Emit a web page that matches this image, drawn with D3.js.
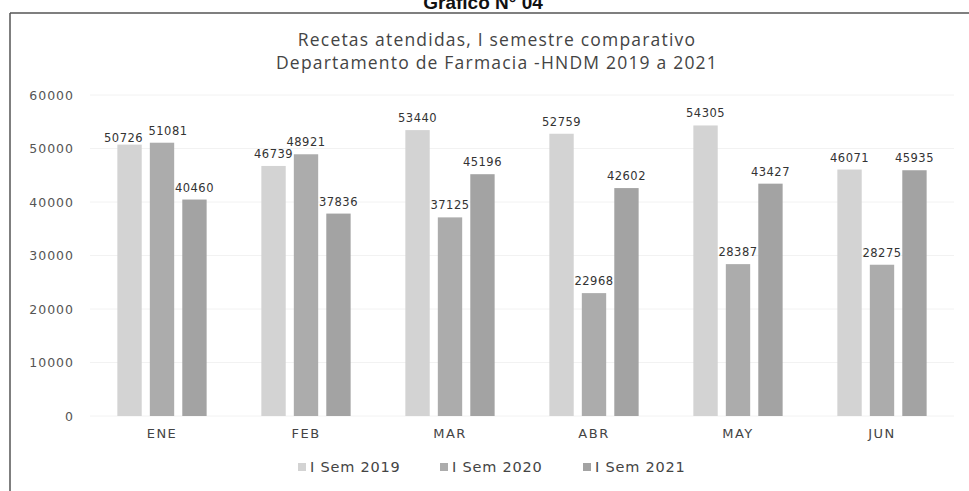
<!DOCTYPE html>
<html>
<head>
<meta charset="utf-8">
<script src="https://cdn.jsdelivr.net/npm/d3@7"></script>
<style>
  body { margin: 0; background: #fff; }
  svg { display: block; }
</style>
</head>
<body>
<div id="chart"></div>
<script>
// data
var months = ["ENE", "FEB", "MAR", "ABR", "MAY", "JUN"];
var seriesNames = ["I Sem 2019", "I Sem 2020", "I Sem 2021"];
var sem2019 = [50726, 46739, 53440, 52759, 54305, 46071];
var sem2020 = [51081, 48921, 37125, 22968, 28387, 28275];
var sem2021 = [40460, 37836, 45196, 42602, 43427, 45935];
var yTicks = [0, 10000, 20000, 30000, 40000, 50000, 60000];
var colors = ["#d3d3d3", "#acacac", "#a3a3a3"];

var W = 969, H = 491;
var margin = {top: 95, right: 15, bottom: 75, left: 90};
var width = W - margin.left - margin.right,
    height = 321;

var svg = d3.select("#chart").append("svg")
  .attr("width", W)
  .attr("height", H);

// frame and the cut-off heading above it
svg.append("text")
  .attr("x", 483).attr("y", 9)
  .attr("text-anchor", "middle")
  .style("font-family", "Liberation Sans, Arial, sans-serif")
  .style("font-weight", "bold")
  .style("font-size", "19px")
  .attr("fill", "#111")
  .text("Gráfico N° 04");

svg.append("line")
  .attr("x1", 10).attr("x2", W).attr("y1", 13).attr("y2", 13)
  .attr("stroke", "#555").attr("stroke-width", 1.5);
svg.append("line")
  .attr("x1", 10).attr("x2", 10).attr("y1", 13).attr("y2", H)
  .attr("stroke", "#555").attr("stroke-width", 1.5);

// title
var title = svg.append("text")
  .attr("text-anchor", "middle")
  .style("font-family", "Open Sans, sans-serif")
  .style("font-size", "17.5px")
  .style("letter-spacing", "1.2px")
  .attr("fill", "#444");
title.append("tspan").attr("x", 497).attr("y", 46).text("Recetas atendidas, I semestre comparativo");
title.append("tspan").attr("x", 497).attr("y", 69).text("Departamento de Farmacia -HNDM 2019 a 2021");

var g = svg.append("g")
  .attr("transform", "translate(" + margin.left + "," + margin.top + ")");

// scales
var x0 = d3.scaleBand()
  .domain(months)
  .range([0, width])
  .paddingInner(0.38)
  .paddingOuter(0.19);

var x1 = d3.scaleBand()
  .domain(seriesNames)
  .range([0, x0.bandwidth()])
  .paddingInner(0.25)
  .paddingOuter(0);

var y = d3.scaleLinear()
  .domain([0, 60000])
  .range([height, 0]);

// gridlines
g.selectAll(".grid")
  .data(yTicks)
  .join("line")
  .attr("class", "grid")
  .attr("x1", 0).attr("x2", width)
  .attr("y1", d => y(d)).attr("y2", d => y(d))
  .attr("stroke", "#f2f2f2");

// y axis labels
var yAxis = g.append("g")
  .call(d3.axisLeft(y).tickValues(yTicks).tickSize(0).tickPadding(16).tickFormat(d3.format("d")));
yAxis.select(".domain").remove();
yAxis.selectAll("text")
  .style("font-family", "DejaVu Sans, sans-serif")
  .style("font-size", "12.5px")
  .style("letter-spacing", "1px")
  .attr("fill", "#555");

// bars
var table = months.map(function(m, i) {
  return {month: m, values: [sem2019[i], sem2020[i], sem2021[i]].map(function(v, j) {
    return {name: seriesNames[j], value: v, color: colors[j], month: m};
  })};
});

var groups = g.selectAll(".month")
  .data(table)
  .join("g")
  .attr("class", "month")
  .attr("transform", d => "translate(" + x0(d.month) + ",0)");

groups.selectAll("rect")
  .data(d => d.values)
  .join("rect")
  .attr("x", d => x1(d.name))
  .attr("y", d => y(d.value))
  .attr("width", x1.bandwidth())
  .attr("height", d => y(0) - y(d.value))
  .attr("fill", d => d.color);

// labels of ENE 2019/2020 collide, nudge them apart like the original
function nudgeX(d) {
  if (d.month == "ENE" && d.name == seriesNames[0]) return -6;
  if (d.month == "ENE" && d.name == seriesNames[1]) return 6;
  return 0;
}
function nudgeY(d) {
  if (d.month == "ENE" && d.name == seriesNames[0]) return 5;
  return 0;
}

groups.selectAll(".lbl")
  .data(d => d.values)
  .join("text")
  .attr("class", "lbl")
  .attr("x", d => x1(d.name) + x1.bandwidth() / 2 + nudgeX(d))
  .attr("y", d => y(d.value) - 8 + nudgeY(d))
  .attr("text-anchor", "middle")
  .style("font-family", "DejaVu Sans, sans-serif")
  .style("font-size", "11.5px")
  .style("letter-spacing", "0.5px")
  .attr("fill", "#333")
  .text(d => d.value);

// x axis labels
var xAxis = g.append("g")
  .attr("transform", "translate(0," + y(0) + ")")
  .call(d3.axisBottom(x0).tickSize(0).tickPadding(13));
xAxis.select(".domain").remove();
xAxis.selectAll("text")
  .style("font-family", "DejaVu Sans, sans-serif")
  .style("font-size", "13px")
  .style("letter-spacing", "1.5px")
  .attr("fill", "#444");

// legend
var legendX = [298, 440, 583];
var legend = svg.selectAll(".legend")
  .data(seriesNames)
  .join("g")
  .attr("class", "legend")
  .attr("transform", (d, i) => "translate(" + legendX[i] + ",467)");
legend.append("rect")
  .attr("x", 0).attr("y", -4)
  .attr("width", 8).attr("height", 8)
  .attr("fill", (d, i) => colors[i]);
legend.append("text")
  .attr("x", 12).attr("y", 5)
  .style("font-family", "DejaVu Sans, sans-serif")
  .style("font-size", "14.5px")
  .style("letter-spacing", "0.8px")
  .attr("fill", "#444")
  .text(d => d);
</script>
</body>
</html>
